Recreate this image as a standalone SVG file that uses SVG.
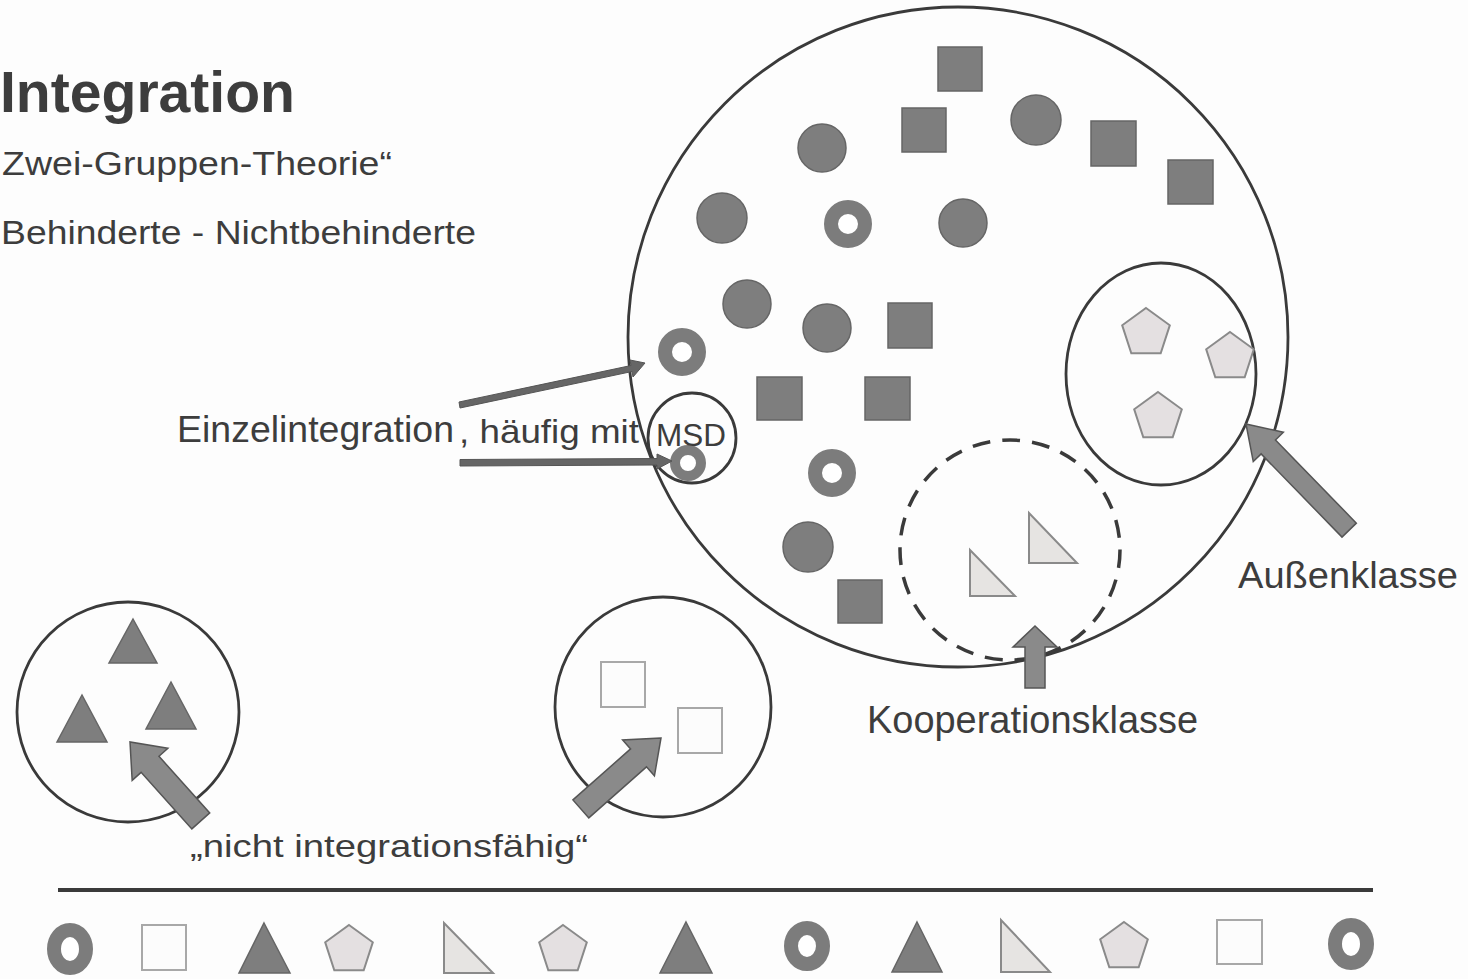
<svg xmlns="http://www.w3.org/2000/svg" xmlns:xlink="http://www.w3.org/1999/xlink" width="1468" height="979" viewBox="0 0 1468 979">
<defs>
<style>
text{font-family:"Liberation Sans",Arial,sans-serif;fill:#3d3d3d}
.ring{fill:#fff;stroke:#7c7c7c;stroke-width:14}
.lring{fill:#fff;stroke:#7c7c7c;stroke-width:14}
.dot{fill:#7e7e7e;stroke:#666;stroke-width:1.5}
.sq{fill:#7e7e7e;stroke:#666;stroke-width:1.5}
.tri{fill:#7e7e7e;stroke:#666;stroke-width:1.5}
.pent{fill:#e4e0e1;stroke:#8a8a8a;stroke-width:2}
.rt{fill:#e6e4e2;stroke:#8a8a8a;stroke-width:2}
.esq{fill:#fcfcfc;stroke:#a8a8a8;stroke-width:2}
.outline{fill:none;stroke:#3a3a3a;stroke-width:2.8}
.dash{fill:none;stroke:#3a3a3a;stroke-width:3.5;stroke-dasharray:18 12}
.fat{fill:#8a8a8a;stroke:#555;stroke-width:1.5}
.thin{fill:#666;stroke:#555;stroke-width:1}
</style>
<path id="pent" d="M0,-25 L23.8,-7.7 L14.7,20.2 L-14.7,20.2 L-23.8,-7.7 Z"/>
</defs>
<rect width="1468" height="979" fill="#fdfdfd"/>

<g id="title">
<text x="0" y="112" font-size="57" font-weight="bold" textLength="295" lengthAdjust="spacingAndGlyphs">Integration</text>
<text x="2" y="175" font-size="34" textLength="390" lengthAdjust="spacingAndGlyphs">Zwei-Gruppen-Theorie“</text>
<text x="1" y="244" font-size="34" textLength="475" lengthAdjust="spacingAndGlyphs">Behinderte - Nichtbehinderte</text>
</g>

<g id="main-class">
<circle class="outline" cx="958" cy="337" r="330"/>
<rect class="sq" x="938" y="47" width="44" height="44"/>
<rect class="sq" x="902" y="108" width="44" height="44"/>
<circle class="dot" cx="822" cy="148" r="24"/>
<circle class="dot" cx="1036" cy="120" r="25"/>
<rect class="sq" x="1091" y="121" width="45" height="45"/>
<rect class="sq" x="1168" y="160" width="45" height="44"/>
<circle class="dot" cx="722" cy="218" r="25"/>
<circle class="ring" cx="848" cy="224" r="17"/>
<circle class="dot" cx="963" cy="223" r="24"/>
<circle class="dot" cx="747" cy="304" r="24"/>
<circle class="dot" cx="827" cy="328" r="24"/>
<rect class="sq" x="888" y="303" width="44" height="45"/>
<circle class="ring" cx="682" cy="352" r="17"/>
<rect class="sq" x="757" y="377" width="45" height="43"/>
<rect class="sq" x="865" y="377" width="45" height="43"/>
<circle class="ring" cx="832" cy="473" r="17"/>
<circle class="dot" cx="808" cy="547" r="25"/>
<rect class="sq" x="838" y="580" width="44" height="43"/>
</g>

<g id="msd">
<ellipse class="outline" cx="692" cy="438" rx="44" ry="45"/>
<circle class="ring" cx="688" cy="463" r="13" style="stroke-width:10"/>
</g>

<g id="aussenklasse">
<ellipse class="outline" cx="1161" cy="374" rx="95" ry="111"/>
<use href="#pent" class="pent" x="1146" y="333"/>
<use href="#pent" class="pent" x="1230" y="357"/>
<use href="#pent" class="pent" x="1158" y="417"/>
</g>

<g id="kooperationsklasse">
<circle class="dash" cx="1010" cy="550" r="110"/>
<path class="rt" d="M1029,513 L1029,563 L1077,563 Z"/>
<path class="rt" d="M970,550 L970,596 L1015,596 Z"/>
</g>

<g id="sonderschule-1">
<ellipse class="outline" cx="128" cy="712" rx="111" ry="110"/>
<path class="tri" d="M133,619 L157,663 L109,663 Z"/>
<path class="tri" d="M82,695 L107,742 L57,742 Z"/>
<path class="tri" d="M171,682 L196,729 L146,729 Z"/>
</g>

<g id="sonderschule-2">
<ellipse class="outline" cx="663" cy="707" rx="108" ry="110"/>
<rect class="esq" x="601" y="662" width="44" height="45"/>
<rect class="esq" x="678" y="708" width="44" height="45"/>
</g>

<g id="labels">
<text x="177" y="442" font-size="37" textLength="277" lengthAdjust="spacingAndGlyphs">Einzelintegration</text>
<text x="459" y="443" font-size="33" textLength="180" lengthAdjust="spacingAndGlyphs">, häufig mit</text>
<text x="656" y="446" font-size="31" textLength="70" lengthAdjust="spacingAndGlyphs">MSD</text>
<text x="867" y="733" font-size="38" textLength="331" lengthAdjust="spacingAndGlyphs">Kooperationsklasse</text>
<text x="1238" y="588" font-size="37" textLength="220" lengthAdjust="spacingAndGlyphs">Außenklasse</text>
<text x="190" y="857" font-size="32" textLength="398" lengthAdjust="spacingAndGlyphs">„nicht integrationsfähig“</text>
</g>

<g id="connectors">
<path class="thin" d="M645,363 L630,360 L631,365.5 L459,402 L460,408 L632,371.5 L633,377 Z"/>
<path class="thin" d="M672,461 L657,454 L657,458.5 L460,459.5 L460,466 L657,465 L657,469 Z"/>
<g transform="translate(1246,424) rotate(-134.2)"><path class="fat" d="M0,0 L-32,-21 L-32,-10 L-148,-10 L-148,10 L-32,10 L-32,21 Z"/></g>
<g transform="translate(1035,626) rotate(-90)"><path class="fat" d="M0,0 L-21,-22 L-21,-10 L-62,-10 L-62,10 L-21,10 L-21,22 Z"/></g>
<g transform="translate(130,742) rotate(-131.9)"><path class="fat" d="M0,0 L-30,-24 L-30,-12 L-106,-12 L-106,12 L-30,12 L-30,24 Z"/></g>
<g transform="translate(661,738) rotate(-41.5)"><path class="fat" d="M0,0 L-30,-24 L-30,-12 L-107,-12 L-107,12 L-30,12 L-30,24 Z"/></g>
</g>

<g id="legend">
<line x1="58" y1="890" x2="1373" y2="890" stroke="#3a3a3a" stroke-width="4"/>
<ellipse class="lring" cx="70" cy="949" rx="16" ry="19"/>
<rect class="esq" x="142" y="925" width="44" height="45"/>
<path class="tri" d="M264,923 L290,973 L239,973 Z"/>
<use href="#pent" class="pent" x="349" y="950"/>
<path class="rt" d="M444,923 L444,973 L493,973 Z"/>
<use href="#pent" class="pent" x="563" y="950"/>
<path class="tri" d="M686,922 L712,973 L660,973 Z"/>
<ellipse class="lring" cx="807" cy="946" rx="16" ry="18"/>
<path class="tri" d="M917,922 L942,972 L892,972 Z"/>
<path class="rt" d="M1001,920 L1001,972 L1050,972 Z"/>
<use href="#pent" class="pent" x="1124" y="947"/>
<rect class="esq" x="1217" y="920" width="45" height="44"/>
<ellipse class="lring" cx="1351" cy="944" rx="16" ry="19"/>
</g>
</svg>
